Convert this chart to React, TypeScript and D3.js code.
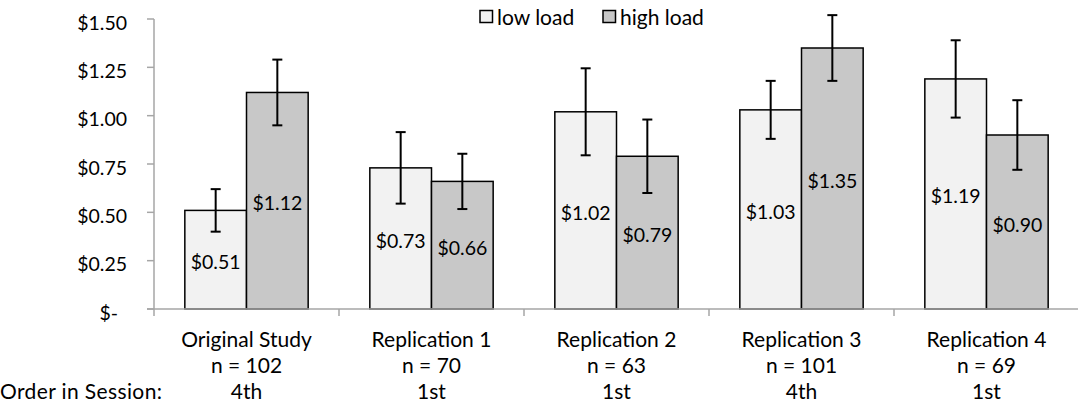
import React from "react";
import * as d3 from "d3";

const categories = ["Original Study", "Replication 1", "Replication 2", "Replication 3", "Replication 4"];
const sampleSizes = ["n = 102", "n = 70", "n = 63", "n = 101", "n = 69"];
const orderInSession = ["4th", "1st", "1st", "4th", "1st"];
const seriesNames = ["low load", "high load"];
const lowLoad = [0.51, 0.73, 1.02, 1.03, 1.19];
const highLoad = [1.12, 0.66, 0.79, 1.35, 0.9];
const lowLoadErr = [0.11, 0.185, 0.225, 0.15, 0.2];
const highLoadErr = [0.17, 0.143, 0.19, 0.17, 0.18];
const yTicks = [0, 0.25, 0.5, 0.75, 1.0, 1.25, 1.5];

const W = 1078;
const H = 408;
const FONT = "Lato, 'Open Sans', sans-serif";
const FS_NUM = 19.5;
const FS_TXT = 21;
const fills = ["#f2f2f2", "#c8c8c8"];
const axisColor = "#a6a6a6";

export default function App() {
  const x0 = d3.scaleBand<string>().domain(categories).range([154, 1079]).paddingInner(0).paddingOuter(0);
  const x1 = d3.scaleBand<string>().domain(seriesNames).range([0, x0.bandwidth()]).paddingInner(0).paddingOuter(0.5);
  const y = d3.scaleLinear().domain([0, 1.5]).range([309, 19]);
  const values = [lowLoad, highLoad];
  const errs = [lowLoadErr, highLoadErr];
  const fmt = (v: number) => (v === 0 ? "$-" : "$" + v.toFixed(2));
  const axisX = x0.range()[0];
  const y0 = y(0);

  return (
    <svg width={W} height={H} style={{ position: "absolute", left: 0, top: 0 }} fontFamily={FONT}>
      <rect x={0} y={0} width={W} height={H} fill="#fff" />
      {/* y axis */}
      <line x1={axisX} x2={axisX} y1={y(1.5)} y2={y0} stroke={axisColor} strokeWidth={1.5} />
      {yTicks.map((t) => (
        <g key={t}>
          <line x1={axisX - 7} x2={axisX} y1={y(t)} y2={y(t)} stroke={axisColor} strokeWidth={1.5} />
          <text
            x={t === 0 ? 118 : 127}
            y={y(t) + 3}
            textAnchor="end"
            dominantBaseline="central"
            fontSize={FS_NUM}
            fill="#000"
          >
            {fmt(t)}
          </text>
        </g>
      ))}
      {/* bars */}
      {categories.map((c, i) => (
        <g key={c} transform={`translate(${x0(c)},0)`}>
          {seriesNames.map((s, k) => {
            const v = values[k][i];
            const bx = x1(s)!;
            const bw = x1.bandwidth();
            return (
              <g key={s}>
                <rect x={bx} y={y(v)} width={bw} height={y0 - y(v)} fill={fills[k]} stroke="#000" strokeWidth={1.5} />
                <text
                  x={bx + bw / 2}
                  y={(y(v) + y0) / 2 + 2}
                  textAnchor="middle"
                  dominantBaseline="central"
                  fontSize={FS_NUM}
                  fill="#000"
                >
                  {fmt(v)}
                </text>
              </g>
            );
          })}
          {seriesNames.map((s, k) => {
            const v = values[k][i];
            const e = errs[k][i];
            const cx = x1(s)! + x1.bandwidth() / 2;
            return (
              <g key={s + "err"} stroke="#000" strokeWidth={2}>
                <line x1={cx} x2={cx} y1={y(v + e)} y2={y(v - e)} />
                <line x1={cx - 5} x2={cx + 5} y1={y(v + e)} y2={y(v + e)} />
                <line x1={cx - 5} x2={cx + 5} y1={y(v - e)} y2={y(v - e)} />
              </g>
            );
          })}
        </g>
      ))}
      {/* x axis */}
      <line x1={axisX - 7} x2={W} y1={y0} y2={y0} stroke={axisColor} strokeWidth={1.5} />
      {categories.map((c) => (
        <line key={c + "tick"} x1={x0(c)!} x2={x0(c)!} y1={y0} y2={y0 + 7} stroke={axisColor} strokeWidth={1.5} />
      ))}
      {categories.map((c, i) => {
        const cx = x0(c)! + x0.bandwidth() / 2;
        return (
          <g key={c + "lbl"} fontSize={FS_TXT} fill="#000" textAnchor="middle">
            <text x={cx} y={347}>{c}</text>
            <text x={cx} y={373}>{sampleSizes[i]}</text>
            <text x={cx} y={399}>{orderInSession[i]}</text>
          </g>
        );
      })}
      <text x={0} y={399} fontSize={FS_TXT} fill="#000" textLength={162}>Order in Session:</text>
      {/* legend */}
      {seriesNames.map((s, k) => {
        const lx = [480, 603][k];
        return (
          <g key={s + "leg"}>
            <rect x={lx} y={10.5} width={12.5} height={12} fill={fills[k]} stroke="#000" strokeWidth={1.5} />
            <text x={lx + 17} y={25} fontSize={FS_TXT} fill="#000">{s}</text>
          </g>
        );
      })}
    </svg>
  );
}
